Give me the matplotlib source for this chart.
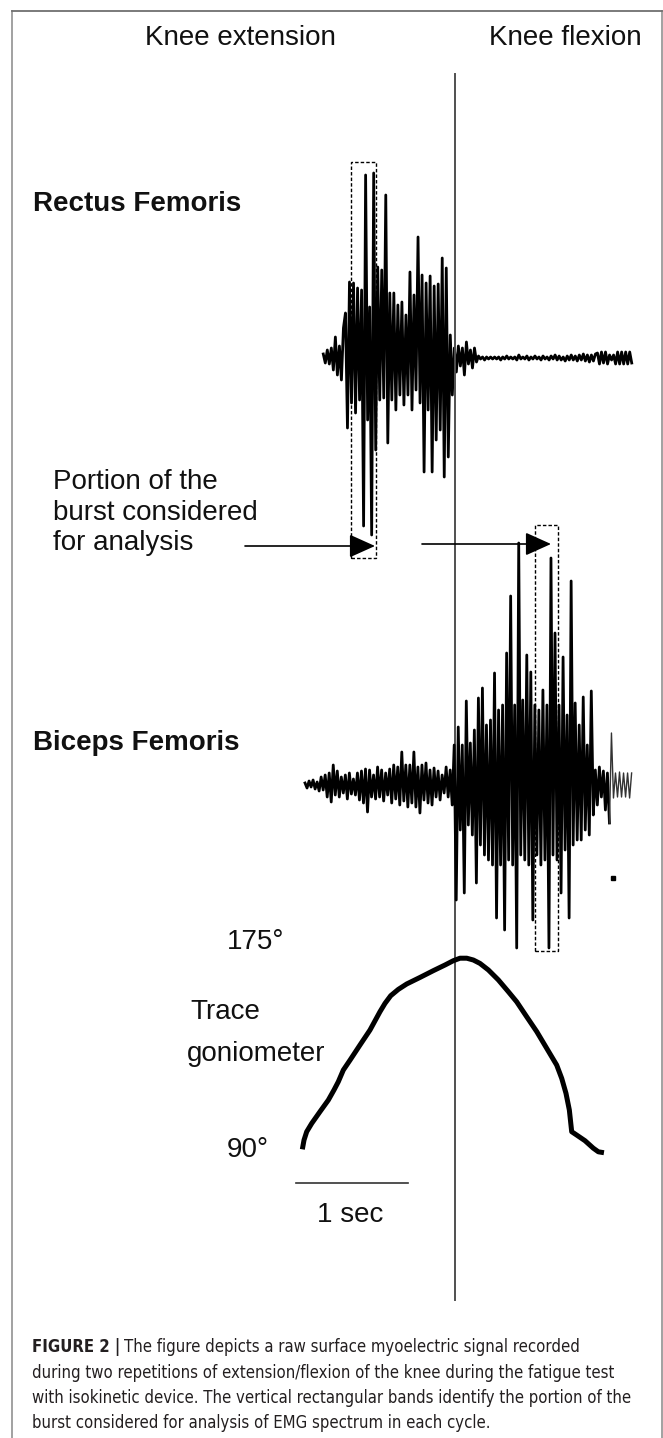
import numpy as np
import matplotlib
matplotlib.use("Agg")
import matplotlib.pyplot as plt
from matplotlib import font_manager as fm
from matplotlib.patches import Rectangle

W, H = 663, 1438

# ---------------- data ----------------
# raw EMG traces are sampled every dt seconds; values in mV, alternating peaks
dt = 0.018

# rectus femoris, split by phase of the repetition
rf_start = 0.19
rf_pre = [0.04, -0.05, 0.08, -0.06, 0.10, -0.12, 0.21, -0.17, 0.12, -0.22, 0.30]
rf_burst = [0.45, -0.70, 0.76, -0.45, 0.75, -0.55, 0.70, -0.42, 0.68, -1.68,
            1.83, -0.62, 0.51, -1.77, 1.85, -0.92, 0.91, -0.42, 0.88, -0.40,
            1.63, -0.85, 0.65, -0.42, 0.65, -0.52, 0.53, -0.37, 0.56, -0.47,
            0.43, -0.37, 0.86, -0.52, 0.63, -0.32, 1.21, -0.45, 0.83, -1.14,
            0.75, -0.52, 0.82, -1.14, 0.72, -0.82, 0.74, -0.72, 1.00, -1.19,
            0.90, -0.99, 0.23, -0.37]
rf_post = [0.10, -0.14, 0.12, -0.08, 0.10, -0.17, 0.16, -0.06, 0.08, -0.10, 0.10, -0.04]
rf_tail = [0.02, -0.01, 0.01, -0.02, 0.01, -0.01, 0.01, -0.01, 0.01, -0.01,
           0.01, -0.02, 0.01, -0.01, 0.02, -0.01, 0.01, -0.01, 0.01, -0.02,
           0.03, -0.01, 0.01, -0.01, 0.02, -0.02, 0.01, -0.01, 0.02, -0.01,
           0.01, -0.02, 0.02, -0.01, 0.01, -0.02, 0.02, -0.01, 0.03, -0.02,
           0.02, -0.02, 0.01, -0.03, 0.02, -0.02, 0.03, -0.02, 0.02, -0.03,
           0.03, -0.02, 0.04, -0.03, 0.03, -0.04, 0.03, -0.03, 0.04]
rf_end = [0.05, -0.06, 0.06, -0.05, 0.06, -0.06, 0.03, -0.02, 0.03,
          -0.06, 0.06, -0.06, 0.06, -0.06, 0.06, -0.06, 0.06, -0.05]

# biceps femoris
bf_start = 0.027
bf_pre = [0.02, -0.03, 0.04, -0.02, 0.05, -0.04, 0.03, -0.06, 0.08, -0.05,
          0.10, -0.12, 0.12, -0.17, 0.20, -0.10, 0.14, -0.12, 0.08, -0.08,
          0.10, -0.14, 0.12, -0.09, 0.06, -0.10, 0.12, -0.15, 0.14, -0.18,
          0.16, -0.27, 0.15, -0.12, 0.10, -0.14, 0.18, -0.12, 0.15, -0.16,
          0.12, -0.10, 0.16, -0.18, 0.20, -0.14, 0.18, -0.20, 0.33, -0.16,
          0.20, -0.22, 0.20, -0.18, 0.33, -0.22, 0.18, -0.28, 0.20, -0.15,
          0.22, -0.18, 0.15, -0.20, 0.17, -0.12, 0.14, -0.15, 0.10, -0.08,
          0.18, -0.12, 0.15, -0.20]
bf_burst = [0.40, -1.15, 0.58, -0.45, 0.40, -1.08, 0.84, -0.40, 0.42, -0.50,
            0.55, -0.98, 0.87, -0.60, 0.97, -0.70, 0.60, -0.75, 0.65, -0.80,
            1.12, -1.33, 0.75, -0.80, 0.80, -1.45, 1.32, -0.75, 1.89, -0.80,
            0.80, -1.63, 2.42, -0.70, 0.85, -0.75, 1.30, -0.80, 1.13, -1.35,
            0.80, -0.70, 0.75, -0.80, 0.95, -0.75, 0.80, -1.63, 2.27, -0.70,
            1.52, -0.75, 0.80, -1.08, 1.28, -0.65, 0.70, -1.33, 2.04, -0.60,
            0.82, -0.55, 0.60, -0.55, 0.88, -0.45, 0.40, -0.50, 0.94, -0.30]
bf_post = [0.15, -0.20, 0.18, -0.12, 0.14, -0.25, 0.12, -0.38]
bf_end = [0.52, -0.13, 0.12, -0.12, 0.13, -0.12, 0.12, -0.12, 0.12, -0.13, 0.12]
bf_artifact = (2.78, -0.93)

# goniometer trace (s, degrees)
gon_t = [0.003, 0.018, 0.042, 0.087, 0.161, 0.235, 0.286, 0.324, 0.369, 0.429,
         0.518, 0.607, 0.696, 0.741, 0.792, 0.860, 0.935, 1.054, 1.173, 1.277,
         1.351, 1.411, 1.471, 1.530, 1.589, 1.664, 1.753, 1.842, 1.917, 2.006,
         2.096, 2.185, 2.274, 2.319, 2.357, 2.387, 2.408, 2.453, 2.527, 2.601,
         2.646, 2.696]
gon_deg = [90.3, 94.4, 98.1, 101.8, 107.0, 112.1, 116.6, 120.2, 125.4, 129.8,
           136.5, 143.1, 151.2, 154.9, 158.3, 161.1, 163.5, 166.4, 169.4, 171.9,
           173.8, 174.9, 174.9, 174.1, 172.6, 169.7, 165.3, 160.1, 155.6, 149.0,
           142.4, 135.0, 127.6, 121.7, 115.1, 107.7, 98.1, 96.6, 94.1, 90.8,
           89.2, 88.8]

t_switch = 1.37                              # extension -> flexion
windows = [(0.44, 0.66), (2.08, 2.29)]       # analysed portions of each burst

caption_lines = [
    "The figure depicts a raw surface myoelectric signal recorded",
    "during two repetitions of extension/flexion of the knee during the fatigue test",
    "with isokinetic device. The vertical rectangular bands identify the portion of the",
    "burst considered for analysis of EMG spectrum in each cycle.",
]

# ---------------- layout ----------------
T0_PX, PX_PER_S = 302, 112
FONT = "Liberation Sans"
INK = "#111111"
EMG_LW = 2.0

fig = plt.figure(figsize=(W / 100, H / 100), dpi=100)
fig.patch.set_facecolor("white")


def layer(base_px, px_per_unit):
    a = fig.add_axes([0, 0, 1, 1])
    a.set_xlim(-T0_PX / PX_PER_S, (W - T0_PX) / PX_PER_S)
    a.set_ylim((base_px - H) / px_per_unit, base_px / px_per_unit)
    a.axis("off")
    a.patch.set_alpha(0)
    return a


def fy(px):
    return 1 - px / H


def trace(start, *phases):
    v = np.concatenate([np.asarray(p, float) for p in phases])
    return start + dt * np.arange(len(v)), v


def narrow_fonts():
    # look for a condensed sans face for the caption, else fall back to the normal one
    wanted = ["Liberation Sans Narrow", "Arial Narrow", "DejaVu Sans", "Roboto Condensed",
              "Open Sans Condensed", "Noto Sans", "Roboto"]
    for name in wanted:
        reg = bold = None
        for f in fm.fontManager.ttflist:
            narrow = "Narrow" in f.name or f.stretch in ("condensed", "semi-condensed") \
                or "ondensed" in f.fname
            if f.name != name or not narrow or f.style != "normal":
                continue
            if f.weight in (400, "normal", "regular", "book"):
                reg = f.fname
            elif f.weight in (700, "bold"):
                bold = f.fname
        if reg:
            return fm.FontProperties(fname=reg), fm.FontProperties(fname=bold or reg)
    return fm.FontProperties(family=FONT), fm.FontProperties(family=FONT, weight="bold")


ax_rf = layer(358, 100)
ax_bf = layer(785, 100)
ax_gon = layer(1150 + 90 * 2.259, 2.259)
ov = fig.add_axes([0, 0, 1, 1])
ov.set_xlim(0, W)
ov.set_ylim(H, 0)
ov.axis("off")
ov.patch.set_alpha(0)

# frame (open at the bottom)
ov.plot([12, 12], [H, 11], color="#9a9a9a", lw=1.3)
ov.plot([661.5, 661.5], [H, 11], color="#9a9a9a", lw=1.3)
ov.plot([12, 661.5], [11, 11], color="#707070", lw=1.3)

# EMG traces
t, v = trace(rf_start, rf_pre, rf_burst, rf_post, rf_tail, rf_end)
ax_rf.plot(t, v, color="black", lw=EMG_LW)

t, v = trace(bf_start, bf_pre, bf_burst, bf_post)
ax_bf.plot(t, v, color="black", lw=EMG_LW)
t_end = t[-1] + dt * np.arange(len(bf_end) + 1)
ax_bf.plot(t_end, np.r_[v[-1], bf_end], color="#333333", lw=1.0)
ax_bf.plot(*bf_artifact, marker="s", ms=2.2, color="black")

# goniometer
ax_gon.plot(gon_t, gon_deg, color="black", lw=3.6, solid_capstyle="butt",
            solid_joinstyle="round")

# extension / flexion divider
xt = ax_rf.get_xaxis_transform()
ax_rf.plot([t_switch, t_switch], [fy(74), fy(1300)], transform=xt, color="#505050", lw=1.4)

# analysis windows
for (t0, t1), (top, bot) in zip(windows, [(162, 558), (525, 951)]):
    ax_rf.add_patch(Rectangle((t0, fy(bot)), t1 - t0, (bot - top) / H, transform=xt,
                              fill=False, ec="black", lw=1.0, ls=(0, (2.5, 1.5))))

# 1 s scale bar
sb0 = -0.05
ax_rf.plot([sb0, sb0 + 1.0], [fy(1183)] * 2, transform=xt, color="#333333", lw=1.2)

# arrows
for x0, x1, y in [(245, 375, 546), (422, 551, 544)]:
    ov.annotate("", xy=(x1, y), xytext=(x0, y),
                arrowprops=dict(arrowstyle="-|>,head_length=0.8,head_width=0.36",
                                mutation_scale=20, lw=1.2, color="black",
                                shrinkA=0, shrinkB=0))

# labels
ov.text(240, 38, "Knee extension", ha="center", va="center", fontsize=20, family=FONT, color=INK)
ov.text(565, 38, "Knee flexion", ha="center", va="center", fontsize=20, family=FONT, color=INK)
ov.text(33, 204, "Rectus Femoris", ha="left", va="center", fontsize=20, family=FONT,
        weight="bold", color=INK)
ov.text(33, 743, "Biceps Femoris", ha="left", va="center", fontsize=20, family=FONT,
        weight="bold", color=INK)
for s, yb in zip(["Portion of the", "burst considered", "for analysis"], [489, 520, 550]):
    ov.text(53, yb, s, ha="left", va="baseline", fontsize=20, family=FONT, color=INK)
ov.text(227, 942, "175°", ha="left", va="center", fontsize=20, family=FONT, color=INK)
ov.text(190, 1012, "Trace", ha="left", va="center", fontsize=20, family=FONT, color=INK)
ov.text(187, 1054, "goniometer", ha="left", va="center", fontsize=20, family=FONT, color=INK)
ov.text(227, 1150, "90°", ha="left", va="center", fontsize=20, family=FONT, color=INK)
ov.text(350, 1215, "1 sec", ha="center", va="center", fontsize=20, family=FONT, color=INK)

# caption, sized so the longest line spans the measured width
cap_reg, cap_bold = narrow_fonts()
renderer = fig.canvas.get_renderer()
probe = ov.text(0, 0, caption_lines[2], fontproperties=cap_reg, fontsize=12)
cap_size = min(14.5, 12 * 597 / probe.get_window_extent(renderer).width)
probe.remove()

cap_y = [1347, 1373, 1398, 1423]
head = ov.text(32, cap_y[0], "FIGURE 2 |", ha="left", va="center", fontproperties=cap_bold,
               fontsize=cap_size, color="#231f20")
hw = head.get_window_extent(renderer).width
for i, (s, y) in enumerate(zip(caption_lines, cap_y)):
    x = 32 + (hw + 4 if i == 0 else 0)
    ov.text(x, y, s, ha="left", va="center", fontproperties=cap_reg, fontsize=cap_size,
            color="#231f20")

fig.savefig("out.png", dpi=100, facecolor="white")
